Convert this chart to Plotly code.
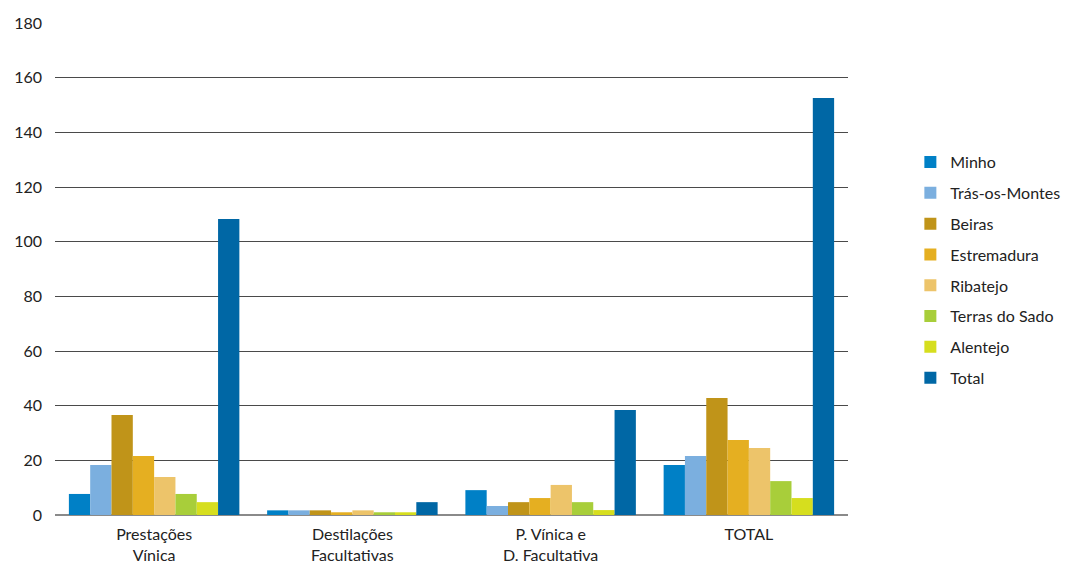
import plotly.graph_objects as go

# Categories on the x axis (line breaks as shown under each group)
categories = ["Prestações<br>Vínica", "Destilações<br>Facultativas",
              "P. Vínica e<br>D. Facultativa", "TOTAL"]

# Values per region for each category
minho = [7.7, 1.7, 9.1, 18.3]
tras_os_montes = [18.3, 1.7, 3.3, 21.6]
beiras = [36.6, 1.7, 4.7, 42.8]
estremadura = [21.6, 1.0, 6.2, 27.4]
ribatejo = [13.9, 1.7, 11.0, 24.5]
terras_do_sado = [7.7, 1.0, 4.7, 12.4]
alentejo = [4.7, 1.0, 1.8, 6.2]
total = [108.3, 4.7, 38.4, 152.6]

series = [
    ("Minho", minho, "#0080C6"),
    ("Trás-os-Montes", tras_os_montes, "#7BAFDF"),
    ("Beiras", beiras, "#C09419"),
    ("Estremadura", estremadura, "#E5AF21"),
    ("Ribatejo", ribatejo, "#EDC46A"),
    ("Terras do Sado", terras_do_sado, "#A8CE3A"),
    ("Alentejo", alentejo, "#D6DE1E"),
    ("Total", total, "#0067A5"),
]

y_ticks = [0, 20, 40, 60, 80, 100, 120, 140, 160, 180]

fig = go.Figure()
for name, vals, color in series:
    fig.add_trace(go.Bar(x=categories, y=vals, name=name, legendgroup=name,
                         marker=dict(color=color, line=dict(width=0))))

font_family = "Lato, Open Sans, sans-serif"
fig.update_layout(
    barmode="group",
    bargap=0.14,
    bargroupgap=0,
    width=1066,
    height=564,
    margin=dict(l=55, r=218, t=23, b=49),
    paper_bgcolor="white",
    plot_bgcolor="white",
    font=dict(family=font_family, size=16, color="#222"),
    legend=dict(xref="container", yref="container", x=0.854, y=0.521,
                xanchor="left", yanchor="middle",
                font=dict(size=16, color="#222"), tracegroupgap=7,
                itemwidth=30, itemsizing="constant"),
    xaxis=dict(showgrid=False, showline=False, ticks="", automargin=False,
               ticklabelstandoff=8,
               tickfont=dict(size=16, color="#222")),
    yaxis=dict(range=[0, 180], tickvals=y_ticks, showgrid=True,
               gridcolor="#4a4a4a", gridwidth=1, zeroline=True,
               zerolinecolor="#8a8a8a", zerolinewidth=2, automargin=False,
               ticklabelstandoff=12, tickfont=dict(size=16, color="#222")),
)

fig.write_html("out.html")
